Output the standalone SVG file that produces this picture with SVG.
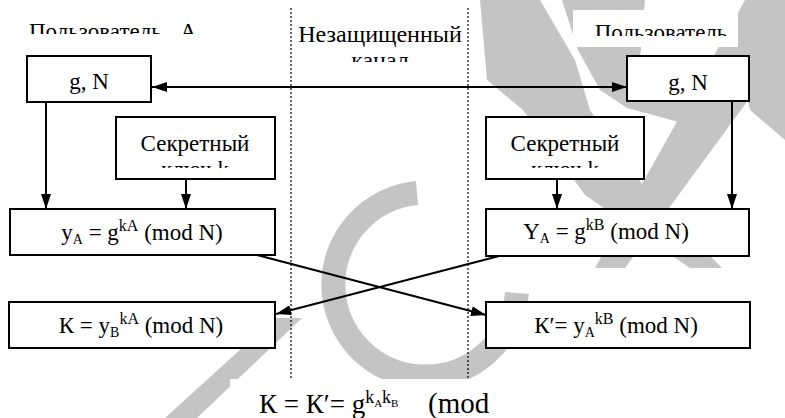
<svg xmlns="http://www.w3.org/2000/svg" width="785" height="418" viewBox="0 0 785 418">
<defs>
<style>
.t{font-size:23px}
.box{fill:#fff;stroke:#000;stroke-width:2}
.ln{fill:none;stroke:#000;stroke-width:2}
.dot{stroke:#000;stroke-width:1.2;stroke-dasharray:2 2;fill:none}
.wm{fill:#c4c4c4}
.wmS{fill:none;stroke:#c4c4c4;stroke-width:24}
</style>
<marker id="ah" markerUnits="userSpaceOnUse" markerWidth="15" markerHeight="10" refX="15" refY="5" orient="auto-start-reverse" viewBox="0 0 15 10">
<path d="M0,0 L15,5 L0,10 z" fill="#000"/>
</marker>
<clipPath id="cL"><rect x="0" y="0" width="290" height="34"/></clipPath>
<clipPath id="cR"><rect x="560" y="0" width="225" height="36"/></clipPath>
<clipPath id="cC"><rect x="292" y="0" width="175" height="62"/></clipPath>
<clipPath id="cS1"><rect x="116" y="117" width="159" height="51"/></clipPath>
<clipPath id="cS2"><rect x="486" y="117" width="158" height="51"/></clipPath>
</defs>
<rect width="785" height="418" fill="#fff"/>
<g id="watermark">
<polygon class="wm" points="480,0 540,0 575,60 590,110 650,195 722,268 690,268 585,195 523,110 487,80"/>
<polygon class="wm" points="562,0 645,0 640,60 700,100 720,120 690,125 627,108 600,90 578,50"/>
<polygon class="wm" points="745,0 785,0 785,50 625,268 595,268"/>
<polygon class="wm" points="735,40 785,20 785,140 750,110"/>
<path class="wmS" d="M417,193 A92,92 0 1 0 517,293"/>
<polygon class="wm" points="275,318 302,318 197,418 165,418"/>
</g>
<g style="font-family:'Liberation Serif','Times New Roman',serif" fill="#000">
<g id="labels">
<rect x="20" y="10" width="190" height="28" fill="#fff"/>
<rect x="573" y="10" width="165" height="37" fill="#fff"/>
<rect x="296" y="10" width="168" height="55" fill="#fff"/>
<rect x="230" y="379" width="320" height="39" fill="#fff"/>
<g clip-path="url(#cL)"><text class="t" x="29" y="39">Пользователь<tspan x="180">А</tspan></text></g>
<g clip-path="url(#cR)"><text class="t" x="661" y="40" text-anchor="middle">Пользователь</text></g>
<g clip-path="url(#cC)"><text style="font-size:24px" x="380" y="42" text-anchor="middle">Незащищенный</text><text style="font-size:24px" x="380" y="68" text-anchor="middle">канал</text></g>
</g>
<g id="channel">
<line class="dot" x1="291" y1="8" x2="291" y2="378"/>
<line class="dot" x1="468" y1="8" x2="468" y2="378"/>
</g>
<g id="connectors">
<line class="ln" x1="152" y1="87" x2="627" y2="87" marker-start="url(#ah)" marker-end="url(#ah)"/>
<line class="ln" x1="46" y1="102" x2="46" y2="209" marker-end="url(#ah)"/>
<line class="ln" x1="186" y1="179" x2="186" y2="209" marker-end="url(#ah)"/>
<line class="ln" x1="557" y1="179" x2="557" y2="209" marker-end="url(#ah)"/>
<line class="ln" x1="732" y1="101" x2="732" y2="209" marker-end="url(#ah)"/>
<line class="ln" x1="257" y1="255" x2="486" y2="315" stroke-width="2.5" marker-end="url(#ah)"/>
<line class="ln" x1="503" y1="255" x2="276" y2="314" stroke-width="2.5" marker-end="url(#ah)"/>
</g>
<g id="gN_A">
<rect class="box" x="27" y="56" width="124" height="46"/>
<text class="t" x="89" y="89" text-anchor="middle">g, N</text>
</g>
<g id="gN_B">
<rect class="box" x="627" y="56" width="122" height="45"/>
<text class="t" x="688" y="90" text-anchor="middle">g, N</text>
</g>
<g id="secret_A">
<rect class="box" x="116" y="117" width="159" height="62"/>
<g clip-path="url(#cS1)"><text class="t" x="195" y="151" text-anchor="middle">Секретный</text><text class="t" x="195" y="177" text-anchor="middle">ключ k</text></g>
</g>
<g id="secret_B">
<rect class="box" x="486" y="117" width="158" height="62"/>
<g clip-path="url(#cS2)"><text class="t" x="565" y="151" text-anchor="middle">Секретный</text><text class="t" x="565" y="177" text-anchor="middle">ключ k</text></g>
</g>
<g id="yA">
<rect class="box" x="10" y="209" width="265" height="46"/>
<text class="t" x="142" y="240" text-anchor="middle">y<tspan dy="4" style="font-size:14px">A</tspan><tspan dy="-4"> = g</tspan><tspan dy="-9" style="font-size:16px">kA</tspan><tspan dy="9"> (mod N)</tspan></text>
</g>
<g id="YB">
<rect class="box" x="486" y="209" width="263" height="47"/>
<text class="t" x="606" y="239" text-anchor="middle">Y<tspan dy="4" style="font-size:14px">A</tspan><tspan dy="-4"> = g</tspan><tspan dy="-9" style="font-size:16px">kB</tspan><tspan dy="9"> (mod N)</tspan></text>
</g>
<g id="K_A">
<rect class="box" x="9" y="302" width="266" height="46"/>
<text class="t" x="141" y="333" text-anchor="middle">К = y<tspan dy="4" style="font-size:14px">B</tspan><tspan dy="-13" style="font-size:16px">kA</tspan><tspan dy="9"> (mod N)</tspan></text>
</g>
<g id="K_B">
<rect class="box" x="486" y="302" width="264" height="46"/>
<text class="t" x="616" y="333" text-anchor="middle">К′= y<tspan dy="4" style="font-size:14px">A</tspan><tspan dy="-13" style="font-size:16px">kB</tspan><tspan dy="9"> (mod N)</tspan></text>
</g>
<g id="formula">
<text style="font-size:27px" x="259" y="413">К = К′= g<tspan dy="-10" style="font-size:18px">k</tspan><tspan dy="4" style="font-size:11px">A</tspan><tspan dy="-4" style="font-size:18px">k</tspan><tspan dy="4" style="font-size:11px">B</tspan><tspan x="428" dy="6" style="font-size:29px">(mod</tspan></text>
</g>
</g>
</svg>
